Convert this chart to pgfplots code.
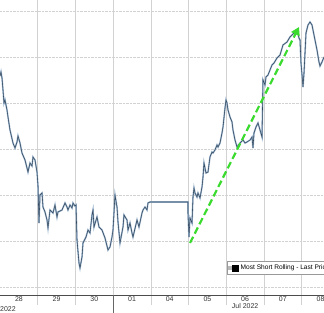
\documentclass[border=0pt]{standalone}
\usepackage{fontspec}
\setmainfont{Liberation Sans}
\usepackage{pgfplots}
\pgfplotsset{compat=1.18}
\usetikzlibrary{arrows.meta}
\definecolor{serdark}{HTML}{34475C}
\definecolor{serlight}{HTML}{9DB7D0}
\definecolor{arrowgreen}{HTML}{3ADB2E}
\definecolor{gridgray}{HTML}{D2D2D2}
\begin{document}
\begin{tikzpicture}
\useasboundingbox (0,0) rectangle (324bp,313bp);
\begin{axis}[
  at={(0,18bp)}, anchor=south west,
  scale only axis, width=324bp, height=295bp,
  xmin=0, xmax=324, ymin=0, ymax=295,
  axis lines*=left,
  x axis line style={draw=black!70, line width=0.6pt},
  y axis line style={draw=none},
  ytick={8,54,100,146,192,238,284}, yticklabels={},
  ytick style={draw=none},
  ymajorgrids, y grid style={gridgray, densely dotted, line width=0.8pt},
  xtick={37.7,75.4,113.1,150.8,188.5,226.2,263.9,301.6}, xticklabels={},
  xmajorgrids, x grid style={gridgray, line width=0.5pt},
  xtick style={gridgray, line width=0.5pt},
  tick align=outside, major tick length=10bp,
  extra x ticks={18.9,56.6,94.3,132,169.7,207.4,245.1,282.8,320.5},
  extra x tick labels={28,29,30,01,04,05,{06\\Jul 2022},07,08},
  extra x tick style={grid=none, major tick length=0pt,
    tick label style={font=\fontsize{7}{7}\selectfont, align=center, inner sep=1.5bp, text=black!80}},
  legend style={at={(axis cs:227,33.5)}, anchor=north west, draw=gray!80,
    font=\fontsize{6.6}{7}\selectfont, inner sep=1pt, row sep=0pt,
    legend cell align=left},
  legend image code/.code={
    \fill[gray!55] (0bp,-1.5bp) rectangle (3bp,1.5bp);
    \fill[black] (4bp,-3bp) rectangle (10bp,3bp);},
  clip=true,
]
\pgfplotstableread{
x y
0 219
1 223
2 217
3 205
4 192
5 195
7 185
8 178
10 165
13 152
15 147
17 153
18 159
20 152
22 142
25 135
27 127
28 123
30 132
32 129
33 138
35 135
37 123
38 109
39 72
40 100
42 102
43 88
45 83
47 75
48 67
50 85
53 82
55 90
57 78
58 83
62 85
65 92
67 88
68 85
70 90
72 87
73 92
75 89
76 90
77 55
79 32
80 27
82 38
83 52
86 58
88 65
90 62
92 80
93 85
94 68
97 78
99 68
102 65
105 57
108 45
110 48
112 58
113 65
115 100
117 88
118 73
120 52
123 68
124 80
127 75
128 65
130 72
132 62
133 58
137 75
139 68
142 82
143 85
145 88
147 85
148 92
150 93
188 93
188 82
189 58
190 77
192 72
193 98
194 107
195 102
197 98
198 102
200 97
202 108
203 118
204 132
206 122
208 123
210 138
212 143
213 142
215 145
217 150
218 148
220 152
222 162
223 168
225 187
226 195
227 192
228 185
230 178
232 173
233 165
235 155
237 148
240 152
243 155
245 152
247 153
250 155
252 158
253 147
254 162
256 168
258 172
260 165
262 158
263 215
265 210
266 218
268 220
270 225
272 230
274 232
277 237
280 240
283 250
287 253
290 258
294 262
297 265
299 257
300 255
301 232
303 208
304 222
305 242
306 262
308 270
310 273
312 270
314 260
315 255
317 245
319 233
320 229
322 233
324 238
}\series
\addplot[serlight, line width=1.6pt, forget plot] table[x=x,y=y] {\series};
\addplot[serdark, line width=0.55pt] table[x=x,y=y] {\series};
\addlegendentry{Most Short Rolling - Last Price}
\addplot[arrowgreen, line width=2.2pt, dash pattern=on 7pt off 3.5pt,
  -{Triangle[length=8bp,width=9bp]}, forget plot] coordinates {(190,52) (299,268)};
\end{axis}
\draw[black!60, line width=0.5pt] (113.1bp,0) -- (113.1bp,18bp);
\node[anchor=west, inner sep=0pt, font=\fontsize{7}{7}\selectfont, text=black!80] at (0,4bp) {2022};
\end{tikzpicture}
\end{document}
